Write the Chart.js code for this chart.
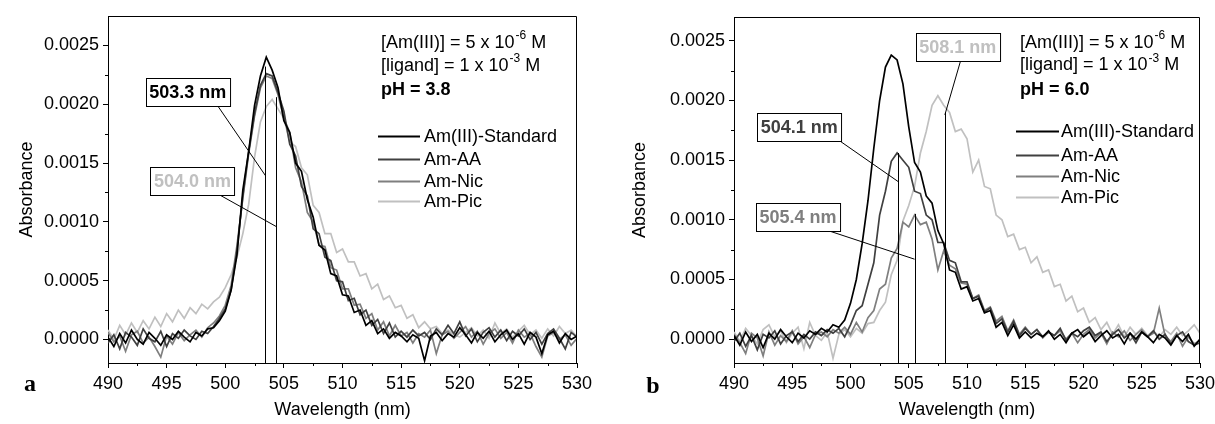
<!DOCTYPE html>
<html>
<head>
<meta charset="utf-8">
<script src="https://cdn.jsdelivr.net/npm/chart.js@4.4.1/dist/chart.umd.min.js"></script>
<style>
    html, body { margin: 0; padding: 0; background: #fff; }
    #wrap { position: relative; width: 1215px; height: 424px; }
    canvas { position: absolute; top: 0; }
    #chartA { left: 0; }
    #chartB { left: 607px; }
</style>
</head>
<body>
<div id="wrap">
    <canvas id="chartA" width="607" height="424"></canvas>
    <canvas id="chartB" width="608" height="424"></canvas>
</div>
<script>
const FONT = '"Liberation Sans", Arial, Helvetica, sans-serif';
Chart.defaults.font.family = FONT;
Chart.defaults.font.size = 18;
Chart.defaults.color = '#000';

// wavelength grid (nm)
const WL = [
    490, 490.5, 491, 491.5, 492, 492.5, 493, 493.5, 494, 494.5,
    495, 495.5, 496, 496.5, 497, 497.5, 498, 498.5, 499, 499.5,
    500, 500.5, 501, 501.5, 502, 502.5, 503, 503.5, 504, 504.5,
    505, 505.5, 506, 506.5, 507, 507.5, 508, 508.5, 509, 509.5,
    510, 510.5, 511, 511.5, 512, 512.5, 513, 513.5, 514, 514.5,
    515, 515.5, 516, 516.5, 517, 517.5, 518, 518.5, 519, 519.5,
    520, 520.5, 521, 521.5, 522, 522.5, 523, 523.5, 524, 524.5,
    525, 525.5, 526, 526.5, 527, 527.5, 528, 528.5, 529, 529.5,
    530
];
const SERIES = ['Am(III)-Standard', 'Am-AA', 'Am-Nic', 'Am-Pic'];
const COLORS = ['#000000', '#404040', '#7f7f7f', '#c0c0c0'];

// absorbance, in units of 1e-5
const UNIT = 1e-5;

// panel a, pH 3.8
const A_STD = [
    2, -6, 5, -3, 8, 0, -4, 6, 1, -5,
    4, 0, 7, 2, -2, 6, 3, 9, 10, 16,
    24, 42, 72, 127, 160, 199, 224, 240, 229, 214,
    186, 176, 150, 143, 119, 104, 80, 76, 56, 54,
    38, 37, 23, 25, 12, 16, 5, 9, 1, 6,
    3, -2, 4, 1, -18, 3, 6, -1, 5, 2,
    10, 4, -3, 6, 1, 7, -2, 4, 8, 0,
    5, -4, 6, 2, -12, 4, 7, -3, 5, 0,
    3
];
const A_AA = [
    -3, 4, -8, 6, 2, -5, 9, 1, -2, 7,
    -6, 5, 1, 8, 3, 0, 7, 5, 11, 18,
    26, 42, 76, 122, 160, 192, 216, 226, 224, 210,
    194, 166, 156, 130, 122, 94, 90, 70, 67, 50,
    49, 33, 35, 21, 25, 12, 17, 5, 14, 2,
    7, 2, 8, 3, 6, 0, 9, 4, 12, 5,
    15, 3, 9, -2, 6, 10, 2, 8, -1, 7,
    3, 9, 0, 6, -4, 5, 9, 1, -8, 6,
    2
];
const A_NIC = [
    6, -2, 3, -10, 4, 7, -3, 2, -6, -15,
    3, -4, 6, -1, 4, 8, 2, 10, 14, 20,
    29, 46, 80, 120, 158, 190, 214, 224, 222, 208,
    188, 176, 146, 134, 108, 100, 80, 79, 61, 59,
    43, 43, 29, 30, 18, 22, 8, 15, 3, 12,
    3, 6, -3, 5, 2, 8, -12, 4, 7, 1,
    6, 11, 2, 7, -4, 5, 9, 1, 6, -3,
    8, 2, 5, -6, -15, 3, 6, 0, 4, -5,
    1
];
const A_PIC = [
    8, 0, 12, 4, 14, 6, 16, 9, 19, 11,
    22, 15, 25, 18, 27, 22, 30, 26, 32, 36,
    44, 55, 70, 90, 115, 155, 185, 198, 204, 196,
    188, 168, 164, 146, 140, 114, 108, 90, 90, 74,
    77, 66, 66, 54, 56, 43, 47, 34, 37, 27,
    29, 18, 21, 10, 15, 9, 11, 5, 8, 4,
    2, 6, 10, 3, 8, 1, 14, 5, 9, 2,
    7, 12, 4, 8, 1, 9, 3, 11, 5, 8,
    2
];

// panel b, pH 6.0
const B_STD = [
    3, -5, 6, -2, 4, -7, 5, 0, 8, 2,
    -3, 5, 1, 7, 4, 9, 6, 12, 10, 16,
    30, 50, 80, 116, 160, 200, 228, 238, 234, 214,
    178, 148, 140, 120, 114, 91, 80, 58, 56, 42,
    44, 32, 34, 22, 24, 10, 14, 3, 12, 1,
    6, 1, 5, 2, 7, 0, 4, -3, 5, 8,
    2, 6, -2, 3, 7, 1, 4, -4, 5, 0,
    6, 2, -3, 4, 1, -5, 3, -2, 4, -6,
    0
];
const B_AA = [
    -2, 5, -6, 3, -9, 4, 1, 7, -4, 3,
    6, -2, 4, 0, 6, 3, 8, 5, 9, 2,
    12, 24, 28, 46, 64, 104, 124, 149, 156, 150,
    144, 124, 122, 104, 100, 81, 81, 66, 64, 48,
    48, 34, 36, 23, 26, 13, 17, 6, 15, 3,
    9, 4, 8, 2, 6, 3, 9, -1, 5, 2,
    7, 10, 3, 6, -2, 4, 8, 1, 5, -3,
    6, 2, 7, 0, 4, -4, 3, 6, -2, -5,
    -3
];
const B_NIC = [
    4, -3, -12, 5, 1, -14, 6, -5, 3, -2,
    7, -4, 2, -7, 4, 6, 2, 8, 5, 10,
    4, 14, 6, 18, 24, 42, 46, 68, 76, 98,
    94, 104, 96, 98, 84, 58, 74, 62, 59, 47,
    46, 34, 37, 24, 27, 15, 19, 7, 16, 4,
    10, 4, 8, 1, 6, 3, 7, 0, 5, -3,
    4, 8, 1, 5, -4, 6, 2, 7, -1, 4,
    8, 2, 5, 26, 3, -2, 5, -6, 2, -4,
    -1
];
const B_PIC = [
    6, -2, 9, 3, -4, 8, 12, 2, 7, -3,
    5, 10, -8, 14, 3, -1, 6, -16, 4, 8,
    2, 9, 5, 13, 14, 24, 31, 54, 66, 99,
    112, 128, 156, 174, 196, 204, 196, 190, 174, 176,
    168, 140, 150, 128, 126, 104, 100, 86, 88, 75,
    77, 64, 69, 56, 58, 44, 46, 32, 36, 23,
    26, 14, 18, 8, 14, 4, 12, 2, 10, 4,
    9, 3, 7, 2, 8, 4, 10, 3, 7, 12,
    5
];

const X_TICKS = [490, 495, 500, 505, 510, 515, 520, 525, 530];
const X_MINOR = [492.5, 497.5, 502.5, 507.5, 512.5, 517.5, 522.5, 527.5];
const Y_TICKS = [0, 0.0005, 0.001, 0.0015, 0.002, 0.0025];
const Y_MINOR = [0.00025, 0.00075, 0.00125, 0.00175, 0.00225];

// peak markers
const PEAKS_A = [503.4, 504.3];
const PEAK_TOPS_A = [0.00232, 0.00206];
const PEAK_TEXT_A = ['503.3 nm', '504.0 nm'];
const PEAKS_B = [504.1, 505.5, 508.1];
const PEAK_TOPS_B = [0.00156, 0.00105, 0.00190];
const PEAK_TEXT_B = ['504.1 nm', '505.4 nm', '508.1 nm'];

const INFO_A = ['[Am(III)] = 5 x 10', '-6', ' M', '[ligand] = 1 x 10', '-3', ' M', 'pH = 3.8'];
const INFO_B = ['[Am(III)] = 5 x 10', '-6', ' M', '[ligand] = 1 x 10', '-3', ' M', 'pH = 6.0'];

// layout of each panel (label boxes placed in data coordinates)
const PANEL_A = {
    letter: 'a', letterX: 30, letterY: 385,
    yMin: -0.0002, yMax: 0.00275, yWidth: 108, titlePad: 16, padTop: 16, padRight: 30,
    infoX: 273, infoY: [27, 50, 74],
    legX: [270, 312, 316], legY: [120, 143, 165, 185],
    boxes: [
        { c: [496.8, 0.00210], from: [499.4, 0.00198], to: [503.45, 0.00139], color: COLORS[0] },
        { c: [497.2, 0.00135], from: [499.5, 0.00123], to: [504.35, 0.00096], color: COLORS[3] }
    ]
};
const PANEL_B = {
    letter: 'b', letterX: 46, letterY: 387,
    yMin: -0.0002, yMax: 0.0027, yWidth: 127, titlePad: 22, padTop: 17, padRight: 15,
    infoX: 286, infoY: [26, 48.5, 73],
    legX: [282, 325, 327], legY: [114, 137.5, 158.5, 180],
    boxes: [
        { c: [495.6, 0.00178], from: [498.95, 0.00167], to: [504.1, 0.00132], color: COLORS[1] },
        { c: [495.5, 0.00102], from: [498.07, 0.00091], to: [505.5, 0.00067], color: COLORS[2] },
        { c: [509.2, 0.00245], from: [509.5, 0.00235], to: [508.1, 0.00188], color: COLORS[3] }
    ]
};

const decor = {
    id: 'decor',
    afterDraw(chart, args, o) {
        const { ctx, chartArea: a, scales: { x, y } } = chart;
        const p = o.panel;
        ctx.save();
        ctx.strokeStyle = '#000';
        ctx.lineWidth = 1;

        // frame top/right
        ctx.beginPath();
        ctx.moveTo(Math.round(a.left) + 0.5, Math.round(a.top) + 0.5);
        ctx.lineTo(Math.round(a.right) - 0.5, Math.round(a.top) + 0.5);
        ctx.lineTo(Math.round(a.right) - 0.5, Math.round(a.bottom) + 0.5);
        ctx.stroke();

        // minor ticks
        ctx.beginPath();
        X_MINOR.forEach(v => {
            const px = Math.round(x.getPixelForValue(v)) + 0.5;
            ctx.moveTo(px, a.bottom); ctx.lineTo(px, a.bottom + 3);
        });
        Y_MINOR.forEach(v => {
            const py = Math.round(y.getPixelForValue(v)) + 0.5;
            ctx.moveTo(a.left - 3, py); ctx.lineTo(a.left, py);
        });
        ctx.stroke();

        // peak drop lines
        ctx.beginPath();
        o.peaks.forEach((pk, i) => {
            const px = Math.round(x.getPixelForValue(pk)) + 0.5;
            ctx.moveTo(px, y.getPixelForValue(y.min));
            ctx.lineTo(px, y.getPixelForValue(o.tops[i]));
        });
        ctx.stroke();

        // leader lines + label boxes
        ctx.font = 'bold 18px ' + FONT;
        ctx.textAlign = 'center';
        ctx.textBaseline = 'middle';
        p.boxes.forEach((b, i) => {
            ctx.beginPath();
            ctx.moveTo(x.getPixelForValue(b.from[0]), y.getPixelForValue(b.from[1]));
            ctx.lineTo(x.getPixelForValue(b.to[0]), y.getPixelForValue(b.to[1]));
            ctx.stroke();
            const cx = x.getPixelForValue(b.c[0]);
            const cy = y.getPixelForValue(b.c[1]);
            const w = ctx.measureText(o.texts[i]).width + 7;
            const h = 28;
            const bx = Math.round(cx - w / 2) + 0.5, by = Math.round(cy - h / 2) + 0.5;
            ctx.fillStyle = '#fff';
            ctx.fillRect(bx, by, w, h);
            ctx.strokeRect(bx, by, w, h);
            ctx.fillStyle = b.color;
            ctx.fillText(o.texts[i], cx, cy + 1);
        });

        // conditions text
        const info = o.info;
        ctx.textAlign = 'left';
        ctx.fillStyle = '#000';
        const tx = a.left + p.infoX;
        [[0, 1, 2], [3, 4, 5]].forEach((idx, r) => {
            const ty = a.top + p.infoY[r];
            ctx.font = '18px ' + FONT;
            ctx.fillText(info[idx[0]], tx, ty);
            let cx = tx + ctx.measureText(info[idx[0]]).width + 1;
            ctx.font = '12px ' + FONT;
            ctx.fillText(info[idx[1]], cx, ty - 7);
            cx += ctx.measureText(info[idx[1]]).width;
            ctx.font = '18px ' + FONT;
            ctx.fillText(info[idx[2]], cx, ty);
        });
        ctx.font = 'bold 18px ' + FONT;
        ctx.fillText(info[6], tx, a.top + p.infoY[2]);

        // legend
        ctx.font = '18px ' + FONT;
        chart.data.datasets.forEach((ds, i) => {
            const ly = Math.round(a.top + p.legY[i]) + 0.5;
            ctx.strokeStyle = ds.borderColor;
            ctx.lineWidth = 2;
            ctx.beginPath();
            ctx.moveTo(a.left + p.legX[0], ly);
            ctx.lineTo(a.left + p.legX[1], ly);
            ctx.stroke();
            ctx.fillStyle = '#000';
            ctx.fillText(ds.label, a.left + p.legX[2], ly + 1);
        });

        // panel letter
        ctx.font = 'bold 24px "Liberation Serif", "Times New Roman", serif';
        ctx.textAlign = 'center';
        ctx.fillText(p.letter, p.letterX, p.letterY);
        ctx.restore();
    }
};

function makeChart(id, p, series, peaks, tops, texts, info) {
    const datasets = series.map((vals, i) => ({
        label: SERIES[i],
        data: vals.map((v, k) => ({ x: WL[k], y: v * UNIT })),
        borderColor: COLORS[i],
        borderWidth: 1.7,
        pointRadius: 0,
        tension: 0,
        fill: false
    }));
    return new Chart(document.getElementById(id).getContext('2d'), {
        type: 'line',
        data: { datasets },
        options: {
            responsive: false,
            animation: false,
            events: [],
            layout: { padding: { top: p.padTop, right: p.padRight, left: 0, bottom: 0 } },
            plugins: {
                legend: { display: false },
                tooltip: { enabled: false },
                decor: { panel: p, peaks, tops, texts, info }
            },
            scales: {
                x: {
                    type: 'linear', min: 490, max: 530,
                    afterBuildTicks: s => { s.ticks = X_TICKS.map(v => ({ value: v })); },
                    afterFit: s => { s.height = 61; s.paddingLeft = 0; s.paddingRight = 0; },
                    grid: { display: true, drawOnChartArea: false, drawTicks: true, tickLength: 5, color: '#000', tickColor: '#000' },
                    border: { display: true, color: '#000', width: 1 },
                    ticks: { padding: 5, color: '#000', autoSkip: false, maxRotation: 0, font: { size: 18 } },
                    title: { display: true, text: 'Wavelength (nm)', color: '#000', font: { size: 18 }, padding: { top: 0, bottom: 3 } }
                },
                y: {
                    type: 'linear', min: p.yMin, max: p.yMax,
                    afterBuildTicks: s => { s.ticks = Y_TICKS.map(v => ({ value: v })); },
                    afterFit: s => { s.width = p.yWidth; s.paddingTop = 0; s.paddingBottom = 0; },
                    grid: { display: true, drawOnChartArea: false, drawTicks: true, tickLength: 5, color: '#000', tickColor: '#000' },
                    border: { display: true, color: '#000', width: 1 },
                    ticks: { padding: 4, color: '#000', autoSkip: false, font: { size: 18 }, callback: v => Number(v).toFixed(4) },
                    title: { display: true, text: 'Absorbance', color: '#000', font: { size: 18 }, padding: { top: p.titlePad, bottom: 0 } }
                }
            }
        },
        plugins: [decor]
    });
}

makeChart('chartA', PANEL_A, [A_STD, A_AA, A_NIC, A_PIC], PEAKS_A, PEAK_TOPS_A, PEAK_TEXT_A, INFO_A);
makeChart('chartB', PANEL_B, [B_STD, B_AA, B_NIC, B_PIC], PEAKS_B, PEAK_TOPS_B, PEAK_TEXT_B, INFO_B);
</script>
</body>
</html>
